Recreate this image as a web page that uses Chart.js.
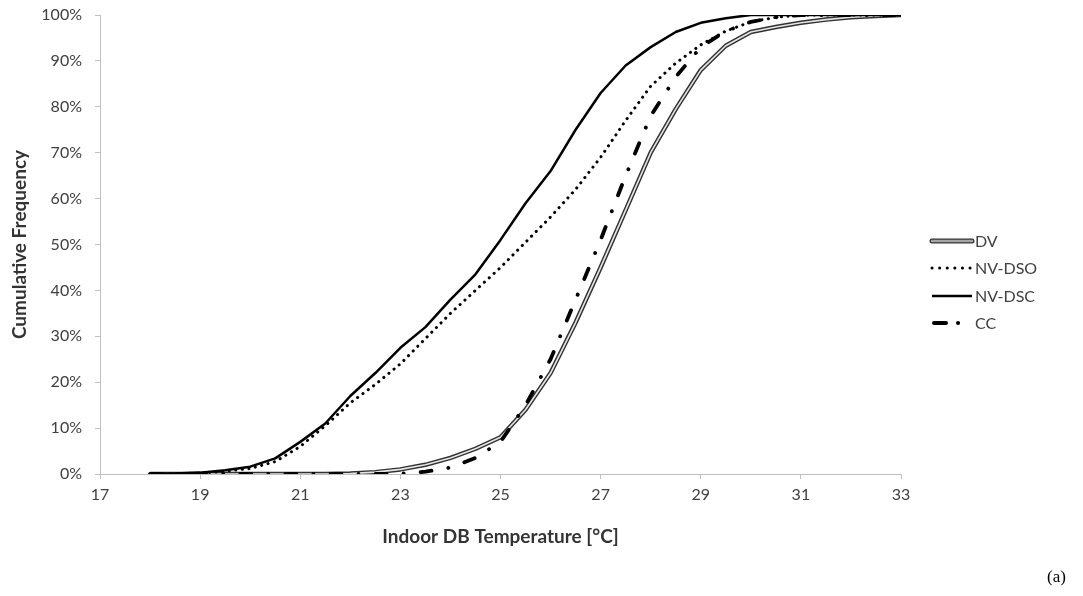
<!DOCTYPE html>
<html>
<head>
<meta charset="utf-8">
<script src="https://cdn.jsdelivr.net/npm/chart.js@4.4.1/dist/chart.umd.min.js"></script>
<style>
  html, body { margin: 0; padding: 0; background: #fff; }
  #wrap { width: 1083px; height: 596px; position: relative; }
</style>
</head>
<body>
<div id="wrap"><canvas id="line_chart" width="1083" height="596"></canvas></div>
<script>
// indoor dry bulb temperature, one point every 0.5 degC
var temps = [18, 18.5, 19, 19.5, 20, 20.5, 21, 21.5, 22, 22.5, 23, 23.5, 24, 24.5, 25, 25.5,
             26, 26.5, 27, 27.5, 28, 28.5, 29, 29.5, 30, 30.5, 31, 31.5, 32, 32.5, 33];

// cumulative frequency in %
var dv    = [0, 0, 0, 0, 0, 0, 0, 0, 0.1, 0.4, 1, 2, 3.5, 5.5, 8, 14,
             22, 33, 45, 57.5, 70, 79.5, 88, 93.3, 96.3, 97.4, 98.3, 99, 99.5, 99.8, 100];
var nvDso = [0, 0.1, 0.2, 0.6, 1.2, 2.7, 6, 10.5, 15.5, 19.5, 24, 29.5, 35, 40, 45, 50.5,
             56, 62, 69, 77, 84.5, 89.5, 93.5, 96.5, 98.5, 99.5, 100, 100, 100, 100, 100];
var nvDsc = [0, 0.1, 0.3, 0.8, 1.6, 3.4, 7, 11, 17, 22, 27.5, 32, 38, 43.5, 51, 59,
             66, 75, 83, 89, 93, 96.3, 98.3, 99.3, 100, 100, 100, 100, 100, 100, 100];
var cc    = [0, 0, 0, 0, 0, 0, 0, 0, 0, 0, 0.1, 0.5, 1.4, 3.5, 7, 15,
             25, 38, 51, 65, 78, 86.5, 93, 96.5, 98.5, 99.5, 100, 100, 100, 100, 100];

var seriesNames = ["DV", "NV-DSO", "NV-DSC", "CC"];
var xTicks = [17, 19, 21, 23, 25, 27, 29, 31, 33];

var FONT = "Lato, 'Open Sans', sans-serif";
var AXIS_GREY = '#bfbfbf';

function pts(values) {
    return temps.map(function (t, i) { return { x: t, y: values[i] }; });
}

function lineSet(label, values, color, width, dash, order) {
    return {
        label: label,
        data: pts(values),
        borderColor: color,
        borderWidth: width,
        borderDash: dash,
        borderCapStyle: dash.length ? 'round' : 'butt',
        borderJoinStyle: 'round',
        pointRadius: 0,
        tension: 0,
        fill: false,
        order: order
    };
}

var ccDash  = [11, 17, 0.1, 17];
var dsoDash = [0.1, 6.5];

// legend and the little "(a)" caption, drawn by hand so the double DV line can be shown
var legendPlugin = {
    id: 'sideLegend',
    afterDraw: function (chart) {
        var ctx = chart.ctx;
        var x0 = 932, x1 = 972;
        var rows = [241, 268, 296, 323];
        ctx.save();
        // DV: black outline, grey core
        ctx.lineCap = 'round';
        ctx.strokeStyle = '#333';
        ctx.lineWidth = 5;
        ctx.beginPath(); ctx.moveTo(x0, rows[0]); ctx.lineTo(x1, rows[0]); ctx.stroke();
        ctx.strokeStyle = '#a6a6a6';
        ctx.lineWidth = 2.5;
        ctx.beginPath(); ctx.moveTo(x0, rows[0]); ctx.lineTo(x1, rows[0]); ctx.stroke();
        // NV-DSO dotted
        ctx.strokeStyle = '#000';
        ctx.lineWidth = 3;
        ctx.setLineDash([0.1, 7.5]);
        ctx.beginPath(); ctx.moveTo(x0, rows[1]); ctx.lineTo(x1, rows[1]); ctx.stroke();
        // NV-DSC solid
        ctx.setLineDash([]);
        ctx.lineCap = 'butt';
        ctx.lineWidth = 2.5;
        ctx.beginPath(); ctx.moveTo(x0, rows[2]); ctx.lineTo(x1, rows[2]); ctx.stroke();
        // CC dash-dot
        ctx.lineCap = 'round';
        ctx.lineWidth = 4;
        ctx.setLineDash([12, 12, 0.1, 20]);
        ctx.beginPath(); ctx.moveTo(x0 + 2, rows[3]); ctx.lineTo(x1, rows[3]); ctx.stroke();
        ctx.setLineDash([]);

        ctx.fillStyle = '#404040';
        ctx.font = "16px " + FONT;
        ctx.textBaseline = 'middle';
        ctx.textAlign = 'left';
        seriesNames.forEach(function (name, i) {
            ctx.fillText(name, 975, rows[i] + 1);
        });

        ctx.fillStyle = '#000';
        ctx.font = "17px 'Liberation Serif', serif";
        ctx.fillText("(a)", 1047, 578);
        ctx.restore();
    }
};

new Chart(document.getElementById("line_chart").getContext("2d"), {
    type: 'line',
    data: {
        datasets: [
            lineSet("DV", dv, '#333333', 4.5, [], 5),
            lineSet("DV-core", dv, '#e6e6e6', 1.6, [], 4),
            lineSet("NV-DSO", nvDso, '#000000', 3, dsoDash, 3),
            lineSet("NV-DSC", nvDsc, '#000000', 2.5, [], 2),
            lineSet("CC", cc, '#000000', 3.8, ccDash, 1)
        ]
    },
    options: {
        responsive: false,
        animation: false,
        devicePixelRatio: 1,
        layout: { padding: { left: 0, right: 182, top: 15, bottom: 48 } },
        plugins: {
            legend: { display: false },
            tooltip: { enabled: false }
        },
        scales: {
            x: {
                type: 'linear',
                min: 17,
                max: 33,
                afterBuildTicks: function (scale) {
                    scale.ticks = xTicks.map(function (v) { return { value: v }; });
                },
                ticks: {
                    color: '#404040',
                    font: { family: FONT, size: 16 },
                    padding: 6,
                    maxRotation: 0
                },
                grid: { drawOnChartArea: false, drawTicks: true, tickLength: 5, color: AXIS_GREY },
                border: { color: AXIS_GREY },
                title: {
                    display: true,
                    text: 'Indoor DB Temperature [°C]',
                    color: '#333',
                    font: { family: FONT, size: 19, weight: 'bold' },
                    padding: { top: 15, bottom: 0 }
                }
            },
            y: {
                min: 0,
                max: 100,
                afterFit: function (scale) {
                    scale.width = 100;
                    scale.paddingTop = 0;
                    scale.paddingBottom = 0;
                },
                ticks: {
                    stepSize: 10,
                    color: '#404040',
                    font: { family: FONT, size: 16 },
                    padding: 13,
                    callback: function (v) { return v + '%'; }
                },
                grid: { drawOnChartArea: false, drawTicks: true, tickLength: 5, color: AXIS_GREY },
                border: { color: AXIS_GREY },
                title: {
                    display: true,
                    text: 'Cumulative Frequency',
                    color: '#333',
                    font: { family: FONT, size: 19, weight: 'bold' },
                    padding: { top: 8, bottom: 0 }
                }
            }
        }
    },
    plugins: [legendPlugin]
});
</script>
</body>
</html>
